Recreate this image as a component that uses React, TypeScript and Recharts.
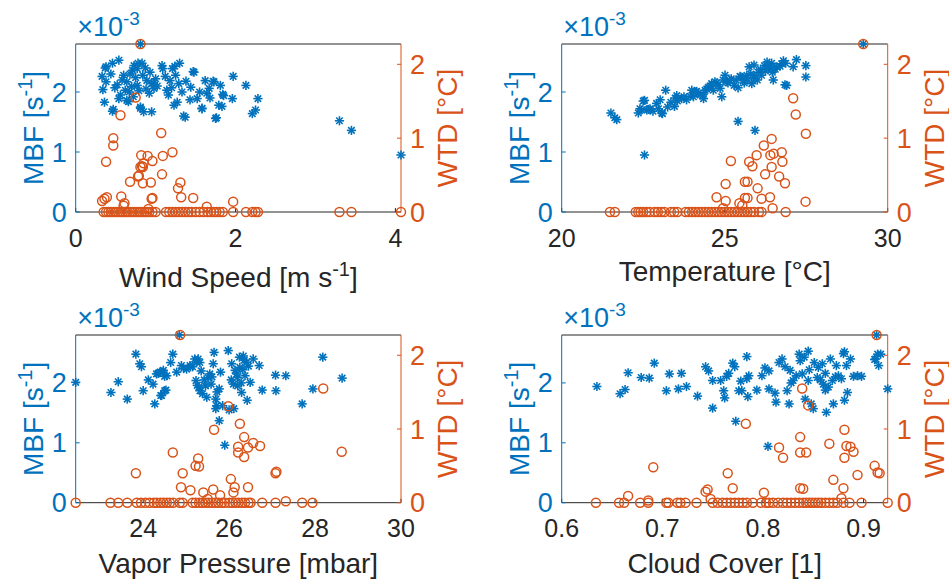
import React from 'react';
import { ScatterChart, Scatter, XAxis, YAxis } from 'recharts';

const BLUE = '#0072BD';
const ORANGE = '#D95319';
const GRAY = '#262626';
const FONT = '"Liberation Sans", Arial, Helvetica, sans-serif';

type Pt = [number, number];

// MBF values are in units of 1e-3 s^-1 ; WTD in degC
const windMBF: Pt[] = [
  [0.81, 2.8], [0.33, 2.26], [0.38, 2.42], [0.46, 2.48], [0.54, 2.53], [0.34, 2.04], [0.38, 2.17], [0.36, 1.83],
  [0.46, 1.68], [0.49, 2.07], [0.54, 1.89], [0.60, 2.28], [0.64, 2.17], [0.62, 2.03], [0.67, 2.0], [0.70, 2.09],
  [0.73, 2.44], [0.77, 2.39], [0.83, 2.48], [0.72, 1.92], [0.77, 2.11], [0.81, 1.75], [0.85, 1.67], [0.89, 2.19],
  [0.93, 2.33], [0.95, 2.14], [0.98, 2.06], [0.95, 1.67], [0.84, 2.28], [0.64, 1.86], [1.08, 2.44], [1.09, 2.39],
  [1.14, 2.03], [1.18, 2.19], [1.21, 2.39], [1.25, 2.28], [1.30, 2.48], [1.29, 2.14], [1.33, 2.0], [1.23, 1.78],
  [1.27, 1.83], [1.37, 1.58], [1.44, 2.08], [1.48, 2.33], [1.52, 1.89], [1.58, 1.72], [1.62, 2.19], [1.67, 2.06],
  [1.73, 2.17], [1.75, 1.56], [1.79, 1.78], [1.81, 2.11], [1.85, 1.94], [1.96, 1.89], [1.97, 2.26], [2.13, 2.11],
  [2.21, 1.64], [2.25, 1.70], [2.28, 1.89], [3.30, 1.52], [3.45, 1.36], [4.07, 0.95],
  [0.37, 2.40], [0.78, 2.48], [0.87, 2.40], [1.24, 2.43], [1.20, 2.07], [0.97, 2.15], [0.47, 1.71], [0.81, 1.73],
  [1.35, 1.60], [1.47, 2.34], [1.76, 1.57], [1.58, 1.73], [1.83, 1.76], [1.84, 1.96], [1.72, 2.18], [1.68, 1.90],
  [1.43, 1.87], [0.58, 2.20], [0.68, 2.30], [0.75, 2.24], [0.88, 2.05], [0.92, 1.98], [1.02, 2.10], [1.00, 2.22],
  [0.56, 1.95], [0.66, 1.84], [0.71, 2.36], [0.79, 2.02], [1.12, 2.26], [1.16, 1.95], [1.38, 2.18], [1.55, 2.0],
  [1.64, 1.98], [0.44, 2.30], [0.52, 2.12],
];

const windWTD: Pt[] = [
  [0.81, 2.275], [0.75, 1.55], [0.56, 1.31], [0.47, 1.0], [0.47, 0.9], [0.38, 0.68], [1.07, 1.07], [1.21, 0.81],
  [0.82, 0.77], [0.90, 0.76], [1.09, 0.76], [0.96, 0.69], [0.85, 0.66], [0.81, 0.61], [0.84, 0.61], [0.79, 0.49],
  [1.08, 0.51], [0.68, 0.41], [0.84, 0.39], [0.94, 0.40], [1.31, 0.40], [1.28, 0.32], [1.32, 0.20], [0.96, 0.19],
  [1.47, 0.19], [0.57, 0.21], [0.39, 0.20], [0.33, 0.15], [0.61, 0.12], [1.64, 0.07], [1.97, 0.14], [0.91, 0.04],
  [0.60, 0.085], [0.95, 0.18], [0.78, 0.48], [0.83, 0.62], [0.36, 0.18],
  [0.35, 0], [0.38, 0], [0.41, 0], [0.44, 0], [0.47, 0], [0.50, 0], [0.53, 0], [0.56, 0], [0.59, 0], [0.62, 0],
  [0.65, 0], [0.68, 0], [0.71, 0], [0.74, 0], [0.77, 0], [0.80, 0], [0.83, 0], [0.86, 0], [0.89, 0], [0.92, 0],
  [0.96, 0], [1.00, 0], [1.13, 0], [1.17, 0], [1.21, 0], [1.25, 0], [1.29, 0], [1.33, 0], [1.37, 0], [1.41, 0],
  [1.45, 0], [1.50, 0], [1.55, 0], [1.60, 0], [1.65, 0], [1.69, 0], [1.73, 0], [1.76, 0], [1.80, 0], [1.84, 0],
  [1.97, 0], [2.13, 0], [2.21, 0], [2.25, 0], [2.28, 0], [3.30, 0], [3.45, 0], [4.07, 0],
];

const tempMBF: Pt[] = [
  [29.25, 2.8], [21.51, 1.65], [21.63, 1.57], [21.69, 1.54], [22.35, 1.65], [22.54, 1.86], [22.40, 1.72], [22.61, 1.70],
  [22.71, 1.72], [22.54, 0.95], [22.91, 1.81], [23.02, 1.87], [23.09, 1.64], [22.97, 1.72], [23.19, 2.03], [23.35, 1.83],
  [23.46, 1.76], [23.53, 1.94], [23.68, 1.89], [23.83, 1.87], [23.99, 2.03], [24.04, 1.92], [24.19, 1.98], [24.35, 1.89],
  [24.40, 2.03], [24.50, 2.08], [24.60, 2.14], [24.70, 2.17], [24.86, 2.06], [24.91, 1.92], [25.01, 2.28], [25.06, 2.17],
  [25.16, 2.19], [25.29, 2.11], [25.41, 2.07], [25.47, 2.26], [25.57, 2.19], [25.68, 2.28], [25.75, 2.42], [25.83, 2.14],
  [25.93, 2.22], [26.03, 2.33], [26.13, 2.28], [26.22, 2.44], [26.34, 2.39], [26.44, 2.48], [26.46, 2.33], [26.60, 2.42],
  [26.75, 2.47], [26.87, 2.48], [26.90, 2.11], [27.10, 2.42], [27.20, 2.54], [27.49, 2.44], [27.49, 2.25], [25.41, 1.51],
  [25.93, 1.36], [24.10, 2.0], [24.25, 1.95], [24.45, 2.05], [24.55, 2.10], [24.65, 2.03], [24.80, 2.12], [24.95, 2.20],
  [25.10, 2.15], [25.20, 2.22], [25.35, 2.20], [25.50, 2.25], [25.60, 2.15], [25.70, 2.20], [25.80, 2.30], [25.90, 2.27],
  [26.00, 2.20], [26.10, 2.38], [26.25, 2.35], [26.40, 2.42], [26.55, 2.38], [26.70, 2.43], [26.80, 2.52], [23.75, 1.92],
  [23.55, 1.85], [23.25, 1.75], [22.80, 1.68], [22.45, 1.70], [24.75, 2.15], [25.90, 2.45], [26.30, 2.50], [22.50, 1.85],
  [22.66, 1.71], [23.07, 1.65], [23.48, 1.90], [23.94, 1.93], [24.14, 2.01], [24.34, 1.96], [26.49, 2.20], [26.85, 2.12],
];

const tempWTD: Pt[] = [
  [29.25, 2.275], [27.10, 1.54], [27.18, 1.32], [27.49, 1.06], [26.44, 0.99], [26.20, 0.90], [25.98, 0.77], [25.19, 0.69],
  [25.75, 0.68], [25.85, 0.62], [26.40, 0.77], [26.50, 0.79], [26.75, 0.81], [26.77, 0.68], [26.44, 0.61], [26.24, 0.51],
  [26.67, 0.48], [26.85, 0.39], [25.03, 0.38], [25.62, 0.41], [25.70, 0.41], [26.01, 0.32], [25.62, 0.19], [25.70, 0.19],
  [26.13, 0.18], [26.39, 0.20], [24.75, 0.20], [25.03, 0.15], [25.54, 0.09], [26.47, 0.05], [27.48, 0.14], [25.45, 0.12],
  [24.95, 0.05], [26.87, 0],
  [21.48, 0], [21.63, 0], [22.27, 0], [22.35, 0], [22.42, 0], [22.50, 0], [22.60, 0], [22.70, 0], [22.85, 0], [22.95, 0],
  [23.05, 0], [23.15, 0], [23.35, 0], [23.45, 0], [23.55, 0], [23.80, 0], [23.90, 0], [24.00, 0], [24.10, 0], [24.20, 0],
  [24.30, 0], [24.40, 0], [24.50, 0], [24.60, 0], [24.70, 0], [24.80, 0], [24.90, 0], [25.00, 0], [25.10, 0], [25.20, 0],
  [25.30, 0], [25.40, 0], [25.50, 0], [25.60, 0], [25.70, 0], [25.80, 0], [25.90, 0], [26.05, 0], [26.13, 0],
];

const vaporMBF: Pt[] = [
  [24.84, 2.8], [22.43, 2.01], [23.25, 1.84], [23.42, 2.02], [23.63, 1.73], [23.83, 2.48], [23.92, 2.32], [23.96, 2.27],
  [24.0, 1.87], [24.12, 2.05], [24.23, 1.98], [24.27, 1.65], [24.31, 2.15], [24.39, 2.18], [24.47, 2.21], [24.50, 2.11],
  [24.43, 1.79], [24.50, 1.87], [24.64, 2.34], [24.69, 2.48], [24.78, 2.18], [24.89, 2.29], [25.01, 2.23], [25.09, 2.29],
  [25.20, 2.40], [25.28, 2.40], [25.32, 2.34], [25.23, 2.04], [25.26, 1.96], [25.32, 1.87], [25.38, 1.82], [25.48, 1.76],
  [25.51, 2.09], [25.55, 2.15], [25.63, 2.32], [25.65, 2.51], [25.69, 1.73], [25.69, 1.57], [25.71, 1.62], [25.77, 1.37],
  [25.80, 2.18], [25.77, 1.90], [25.90, 0.96], [25.98, 2.54], [26.06, 2.32], [26.10, 1.98], [26.11, 1.57], [26.14, 2.21],
  [26.19, 2.09], [26.24, 2.43], [26.25, 2.26], [26.29, 1.84], [26.33, 2.45], [26.37, 2.12], [26.41, 2.34], [26.42, 1.71],
  [26.49, 2.01], [26.56, 2.40], [26.70, 2.29], [26.77, 1.88], [27.08, 2.13], [27.09, 1.87], [27.32, 2.12], [27.70, 1.65],
  [27.95, 1.90], [28.18, 2.43], [28.63, 2.08],
  [25.15, 2.27], [25.24, 2.35], [25.35, 2.20], [25.42, 2.05], [25.45, 1.95], [25.58, 1.98], [25.60, 2.10], [25.72, 1.85],
  [26.18, 2.15], [26.28, 2.0], [26.32, 2.22], [26.35, 2.38], [26.45, 2.28], [26.20, 1.95], [26.05, 2.05], [25.30, 1.93],
  [24.55, 2.12], [24.35, 2.16], [24.45, 2.18], [24.94, 2.24], [25.10, 2.27], [24.53, 1.88], [24.41, 1.79], [25.85, 1.62],
  [26.00, 1.55],
];

const vaporWTD: Pt[] = [
  [24.86, 2.275], [25.98, 1.31], [28.19, 1.55], [25.65, 0.99], [26.25, 1.07], [26.35, 0.89], [26.56, 0.81], [26.72, 0.77],
  [26.44, 0.75], [26.21, 0.76], [26.21, 0.68], [26.35, 0.62], [24.69, 0.68], [28.62, 0.69], [25.28, 0.60], [25.22, 0.50],
  [25.30, 0.49], [23.83, 0.40], [24.92, 0.40], [27.08, 0.40], [27.10, 0.42], [26.04, 0.32], [24.88, 0.21], [25.10, 0.17],
  [25.63, 0.18], [25.40, 0.14], [25.79, 0.10], [26.13, 0.21], [26.10, 0.14], [26.44, 0.21], [27.32, 0.02], [25.50, 0.05],
  [22.43, 0], [23.24, 0], [23.42, 0], [23.63, 0], [23.85, 0], [23.95, 0], [24.05, 0], [24.15, 0], [24.25, 0], [24.32, 0],
  [24.40, 0], [24.47, 0], [24.55, 0], [24.62, 0], [24.70, 0], [24.85, 0], [24.92, 0], [25.15, 0], [25.22, 0], [25.30, 0],
  [25.38, 0], [25.45, 0], [25.52, 0], [25.60, 0], [25.68, 0], [25.75, 0], [25.83, 0], [25.90, 0], [26.00, 0], [26.08, 0],
  [26.15, 0], [26.22, 0], [26.30, 0], [26.37, 0], [26.45, 0], [26.50, 0], [26.77, 0], [27.08, 0], [27.70, 0], [27.94, 0],
];

const cloudMBF: Pt[] = [
  [0.913, 2.8], [0.635, 1.94], [0.658, 1.82], [0.663, 1.89], [0.666, 2.17], [0.679, 2.09], [0.687, 2.08], [0.692, 2.33],
  [0.704, 1.87], [0.707, 2.15], [0.716, 1.90], [0.719, 2.16], [0.724, 1.94], [0.735, 1.78], [0.743, 2.27], [0.746, 2.20],
  [0.750, 2.04], [0.750, 1.58], [0.758, 2.04], [0.761, 1.87], [0.762, 1.75], [0.764, 2.11], [0.766, 2.16], [0.772, 2.27],
  [0.773, 1.36], [0.776, 1.87], [0.778, 2.03], [0.779, 1.87], [0.784, 2.44], [0.784, 2.07], [0.786, 2.12], [0.785, 1.77],
  [0.794, 1.88], [0.799, 2.12], [0.802, 2.25], [0.805, 0.94], [0.806, 1.90], [0.812, 1.83], [0.813, 1.68], [0.816, 2.34],
  [0.819, 2.40], [0.822, 2.27], [0.824, 1.87], [0.826, 1.65], [0.827, 2.21], [0.830, 2.04], [0.833, 2.12], [0.836, 2.48],
  [0.837, 2.37], [0.839, 2.15], [0.841, 2.43], [0.842, 1.73], [0.845, 2.53], [0.845, 2.04], [0.848, 1.65], [0.850, 1.57],
  [0.851, 2.34], [0.854, 2.09], [0.855, 2.26], [0.859, 2.32], [0.860, 1.98], [0.862, 2.16], [0.863, 1.51], [0.865, 1.93],
  [0.867, 2.40], [0.869, 2.04], [0.870, 1.65], [0.873, 2.29], [0.875, 2.12], [0.878, 2.07], [0.880, 2.49], [0.881, 1.71],
  [0.883, 2.29], [0.884, 1.84], [0.887, 2.40], [0.890, 2.11], [0.894, 2.12], [0.898, 2.11], [0.912, 2.40], [0.915, 2.29],
  [0.917, 2.48], [0.924, 1.90],
  [0.881, 2.52], [0.911, 2.39], [0.914, 2.48], [0.770, 2.33], [0.846, 2.22], [0.857, 2.05], [0.862, 1.88], [0.872, 2.10],
  [0.828, 2.0], [0.806, 2.20],
];

const cloudWTD: Pt[] = [
  [0.913, 2.275], [0.839, 1.55], [0.845, 1.32], [0.783, 1.07], [0.881, 0.99], [0.837, 0.89], [0.816, 0.75], [0.820, 0.61],
  [0.837, 0.68], [0.843, 0.68], [0.866, 0.80], [0.883, 0.77], [0.887, 0.76], [0.890, 0.69], [0.881, 0.61], [0.691, 0.48],
  [0.765, 0.40], [0.894, 0.375], [0.911, 0.50], [0.914, 0.41], [0.916, 0.40], [0.870, 0.31], [0.880, 0.195], [0.837, 0.195],
  [0.840, 0.19], [0.770, 0.195], [0.801, 0.135], [0.743, 0.15], [0.745, 0.18], [0.666, 0.09], [0.878, 0.06], [0.686, 0.03],
  [0.748, 0.05],
  [0.634, 0], [0.657, 0], [0.662, 0], [0.678, 0], [0.686, 0], [0.704, 0], [0.706, 0], [0.715, 0], [0.718, 0], [0.723, 0],
  [0.734, 0], [0.750, 0], [0.755, 0], [0.760, 0], [0.764, 0], [0.768, 0], [0.772, 0], [0.776, 0], [0.780, 0], [0.784, 0],
  [0.790, 0], [0.798, 0], [0.803, 0], [0.806, 0], [0.810, 0], [0.815, 0], [0.820, 0], [0.824, 0], [0.828, 0], [0.832, 0],
  [0.836, 0], [0.840, 0], [0.843, 0], [0.846, 0], [0.849, 0], [0.852, 0], [0.855, 0], [0.858, 0], [0.862, 0], [0.866, 0],
  [0.870, 0], [0.874, 0], [0.880, 0], [0.886, 0], [0.898, 0], [0.924, 0],
];

const windTicks = [0, 2, 4];
const tempTicks = [20, 25, 30];
const vaporTicks = [24, 26, 28, 30];
const cloudTicks = [0.6, 0.7, 0.8, 0.9];
const mbfTicks = [0, 1, 2];
const wtdTicks = [0, 1, 2];
const MBF_MAX = 2.8;
const WTD_MAX = 2.275;

const toObj = (arr: Pt[]) => arr.map(([x, y]) => ({ x, y }));

const renderStar = (p: any) => {
  const { cx, cy } = p;
  if (cx == null || cy == null) return <g />;
  const r = 4.6;
  const d = r * 0.7071;
  return (
    <g stroke={BLUE} strokeWidth={1.6}>
      <line x1={cx - r} y1={cy} x2={cx + r} y2={cy} />
      <line x1={cx} y1={cy - r} x2={cx} y2={cy + r} />
      <line x1={cx - d} y1={cy - d} x2={cx + d} y2={cy + d} />
      <line x1={cx - d} y1={cy + d} x2={cx + d} y2={cy - d} />
    </g>
  );
};

const renderRing = (p: any) => {
  const { cx, cy } = p;
  if (cx == null || cy == null) return <g />;
  return <circle cx={cx} cy={cy} r={4.5} fill="none" stroke={ORANGE} strokeWidth={1.5} />;
};

type PanelProps = {
  left: number; top: number; w: number; h: number;
  pl: number; pr: number; pt: number; pb: number;
  xDomain: [number, number]; xTicks: number[];
  xLabel: React.ReactNode; xLabelDy: number;
  mbf: Pt[]; wtd: Pt[];
};

function Panel(props: PanelProps) {
  const { left, top, w, h, pl, pr, pt, pb, xDomain, xTicks, xLabel, xLabelDy, mbf, wtd } = props;
  const mid = (pt + pb) / 2;
  return (
    <div style={{ position: 'absolute', left, top, width: w, height: h }}>
      <ScatterChart width={w} height={h} margin={{ top: pt - 1, right: 0, bottom: 0, left: 0 }}>
        <XAxis
          xAxisId="b" type="number" dataKey="x" domain={xDomain} ticks={xTicks} interval={0}
          height={h - pb} stroke={GRAY} tickSize={-4} tickMargin={21}
          tick={{ fill: GRAY, fontSize: 25 }}
        />
        <XAxis
          xAxisId="t" orientation="top" type="number" dataKey="x" domain={xDomain} ticks={xTicks} interval={0}
          height={1} stroke={GRAY} tickSize={-4} tick={false}
        />
        <YAxis
          yAxisId="l" type="number" dataKey="y" domain={[0, MBF_MAX]} ticks={mbfTicks} interval={0}
          width={pl} stroke={BLUE} tickSize={-4} tickMargin={13}
          tick={{ fill: BLUE, fontSize: 27 }}
        />
        <YAxis
          yAxisId="r" orientation="right" type="number" dataKey="y" domain={[0, WTD_MAX]} ticks={wtdTicks} interval={0}
          width={w - pr} stroke={ORANGE} tickSize={-4} tickMargin={13}
          tick={{ fill: ORANGE, fontSize: 27 }}
        />
        <Scatter xAxisId="b" yAxisId="l" data={toObj(mbf)} shape={renderStar} isAnimationActive={false} />
        <Scatter xAxisId="b" yAxisId="r" data={toObj(wtd)} shape={renderRing} isAnimationActive={false} />
      </ScatterChart>
      <svg width={w} height={h} style={{ position: 'absolute', left: 0, top: 0, pointerEvents: 'none', overflow: 'visible' }}>
        <text x={pl + 1.5} y={pt - 8} fill={BLUE} fontSize={27}>
          ×10<tspan dy={-11} fontSize={19}>-3</tspan>
        </text>
        <text
          x={pl - 33} y={mid} transform={`rotate(-90 ${pl - 33} ${mid})`}
          textAnchor="middle" fill={BLUE} fontSize={28}
        >
          MBF [s<tspan dy={-11} fontSize={20}>-1</tspan><tspan dy={11}>]</tspan>
        </text>
        <text
          x={pr + 56} y={mid} transform={`rotate(-90 ${pr + 56} ${mid})`}
          textAnchor="middle" fill={ORANGE} fontSize={28}
        >
          WTD [°C]
        </text>
        <text x={(pl + pr) / 2} y={pb + xLabelDy} textAnchor="middle" fill={GRAY} fontSize={28}>
          {xLabel}
        </text>
      </svg>
    </div>
  );
}

export default function App() {
  return (
    <div style={{ position: 'absolute', left: 0, top: 0, width: 949, height: 579, background: '#fff', fontFamily: FONT, overflow: 'hidden' }}>
      <Panel
        left={0} top={0} w={475} h={290} pl={75.7} pr={401} pt={44} pb={212}
        xDomain={[0, 4.07]} xTicks={windTicks} xLabelDy={75}
        xLabel={<>Wind Speed [m s<tspan dy={-11} fontSize={20}>-1</tspan><tspan dy={11}>]</tspan></>}
        mbf={windMBF} wtd={windWTD}
      />
      <Panel
        left={475} top={0} w={474} h={290} pl={86.7} pr={412.7} pt={44} pb={212}
        xDomain={[20, 30]} xTicks={tempTicks} xLabelDy={69}
        xLabel={'Temperature [°C]'}
        mbf={tempMBF} wtd={tempWTD}
      />
      <Panel
        left={0} top={290} w={475} h={289} pl={75.7} pr={401} pt={45} pb={212.7}
        xDomain={[22.43, 30]} xTicks={vaporTicks} xLabelDy={70}
        xLabel={'Vapor Pressure [mbar]'}
        mbf={vaporMBF} wtd={vaporWTD}
      />
      <Panel
        left={475} top={290} w={474} h={289} pl={86.7} pr={412.7} pt={45} pb={212.7}
        xDomain={[0.6, 0.924]} xTicks={cloudTicks} xLabelDy={70}
        xLabel={'Cloud Cover [1]'}
        mbf={cloudMBF} wtd={cloudWTD}
      />
    </div>
  );
}
